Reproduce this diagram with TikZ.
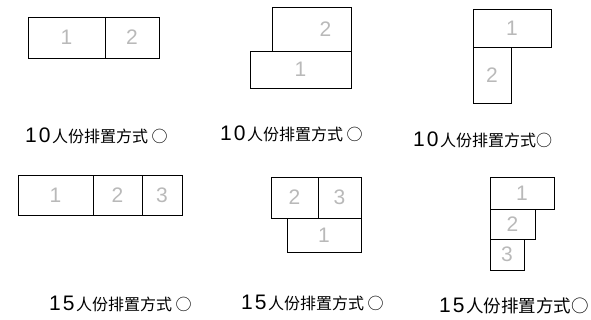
\documentclass[tikz,border=0pt]{standalone}
\usepackage{fontspec}
\setmainfont{Liberation Sans}
\newfontfamily\cjk{Noto Sans CJK SC}
\usetikzlibrary{positioning}
\newcommand\capnum[2]{{\rmfamily\fontsize{21}{21}\selectfont #1\hspace{2pt}#2}\hspace{1.5pt}}
\tikzset{
  seat/.style={draw=black,line width=0.9pt,rectangle,inner sep=0pt,
               font=\fontsize{21}{21}\selectfont,text=gray!55},
  captext/.style={anchor=west,inner sep=0pt,font=\cjk\fontsize{16}{16}\selectfont}
}

\begin{document}
\begin{tikzpicture}[x=1pt,y=-1pt]
\useasboundingbox (0,0) rectangle (591,320);
% 10 persons, row
\node[seat, minimum width=77pt, minimum height=41pt] (a1) at (66.5,37.5) {1};
\node[seat, minimum width=54pt, minimum height=41pt] (a2) at (132,37.5) {2};
\node[captext] (capa) at (25,136) {\capnum10人份排置方式 ○};
% 10 persons, step
\node[seat, minimum width=79pt, minimum height=44pt, label={[seat,draw=none,xshift=14pt]center:2}] (b2) at (311.5,29) {};
\node[seat, minimum width=101pt, minimum height=37pt] (b1) at (300.5,69.5) {1};
\node[captext] (capb) at (220,134) {\capnum10人份排置方式 ○};
% 10 persons, L
\node[seat, minimum width=78pt, minimum height=38pt] (c1) at (512,28) {1};
\node[seat, minimum width=38pt, minimum height=56pt] (c2) at (492,75) {2};
\node[captext] (capc) at (413,139.5) {\capnum10人份排置方式○};
% 15 persons, row
\node[seat, minimum width=75pt, minimum height=40pt] (d1) at (55.5,195) {1};
\node[seat, minimum width=49pt, minimum height=40pt] (d2) at (117.5,195) {2};
\node[seat, minimum width=40pt, minimum height=40pt] (d3) at (162,195) {3};
\node[captext] (capd) at (49,304) {\capnum15人份排置方式 ○};
% 15 persons, 2 + 1
\node[seat, minimum width=47pt, minimum height=41pt] (e2) at (294.5,197.5) {2};
\node[seat, minimum width=43pt, minimum height=41pt] (e3) at (339.5,197.5) {3};
\node[seat, minimum width=74pt, minimum height=34pt] (e1) at (324,235) {1};
\node[captext] (cape) at (241,302.5) {\capnum15人份排置方式 ○};
% 15 persons, stair
\node[seat, minimum width=64pt, minimum height=32pt] (f1) at (522,193) {1};
\node[seat, minimum width=45pt, minimum height=30pt] (f2) at (512.5,224) {2};
\node[seat, minimum width=34pt, minimum height=31pt] (f3) at (507,254.5) {3};
\node[captext, font=\cjk\fontsize{17.5}{17.5}\selectfont] (capf) at (439,305.5) {\capnum15人份排置方式○};
\end{tikzpicture}
\end{document}
